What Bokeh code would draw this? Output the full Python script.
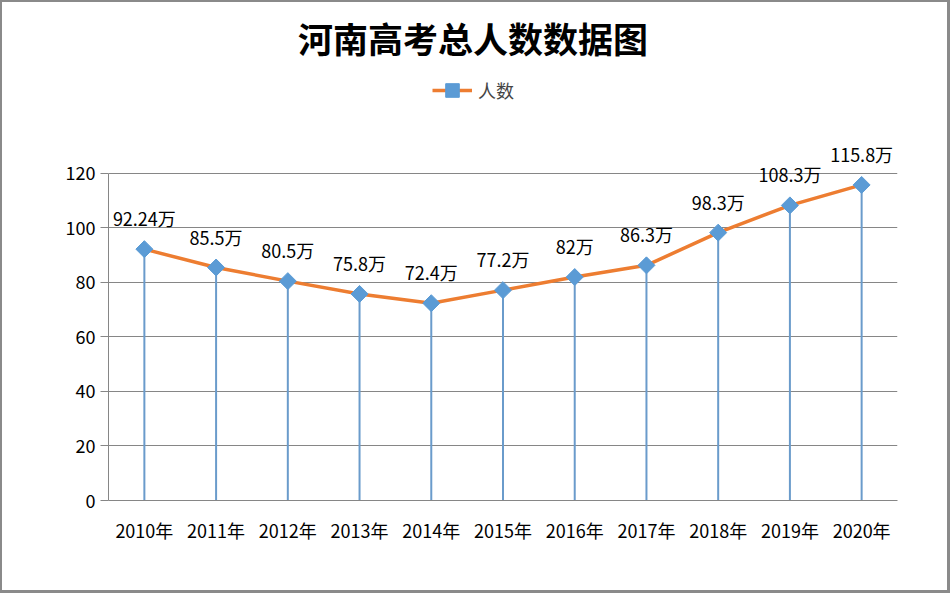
import math
from bokeh.plotting import figure
from bokeh.models import Range1d, FixedTicker, Label, Legend, LegendItem, ColumnDataSource
from bokeh.core.properties import value
from bokeh.embed import file_html
from bokeh.resources import INLINE

years = ["2010年", "2011年", "2012年", "2013年", "2014年", "2015年",
         "2016年", "2017年", "2018年", "2019年", "2020年"]
people = [92.24, 85.5, 80.5, 75.8, 72.4, 77.2, 82, 86.3, 98.3, 108.3, 115.8]
labels = ["92.24万", "85.5万", "80.5万", "75.8万", "72.4万", "77.2万",
          "82万", "86.3万", "98.3万", "108.3万", "115.8万"]
y_ticks = [0, 20, 40, 60, 80, 100, 120]
title_text = "河南高考总人数数据图"
series_name = "人数"

CJK = "Noto Sans CJK SC"
xs = [i + 0.5 for i in range(len(years))]
src = ColumnDataSource(dict(x=xs, y=people, zero=[0] * len(people), lab=labels))

# frame spans from the canvas top down to the x axis; axis bounds keep the axis at 0..120
p = figure(width=950, height=593, output_backend="svg", toolbar_location=None,
           x_range=Range1d(0, len(years)), y_range=Range1d(0, 182.75),
           min_border_left=106, min_border_right=55, min_border_top=0, min_border_bottom=95)
p.styles = {"border-style": "solid", "border-color": "#8a8a8a",
            "border-width": "2px 3px 3px 2px"}
p.outline_line_color = None
p.background_fill_color = "white"
p.border_fill_color = "white"

# axes
p.xaxis.ticker = FixedTicker(ticks=xs)
p.xaxis.major_label_overrides = {x: y for x, y in zip(xs, years)}
p.xaxis.major_tick_line_color = None
p.xaxis.minor_tick_line_color = None
p.xaxis.axis_line_color = "#868686"
p.xaxis.major_label_text_font = CJK
p.xaxis.major_label_text_font_size = "18px"
p.xaxis.major_label_text_color = "black"
p.xaxis.major_label_standoff = 10

p.yaxis.ticker = FixedTicker(ticks=y_ticks)
p.yaxis.bounds = (0, 120)
p.yaxis.major_tick_in = 0
p.yaxis.major_tick_out = 8
p.yaxis.major_tick_line_color = "#868686"
p.yaxis.minor_tick_line_color = None
p.yaxis.axis_line_color = "#868686"
p.yaxis.major_label_text_font = CJK
p.yaxis.major_label_text_font_size = "18px"
p.yaxis.major_label_text_color = "black"
p.yaxis.major_label_standoff = 5

p.xgrid.grid_line_color = None
p.ygrid.grid_line_color = "#868686"
p.ygrid.grid_line_width = 1

# drop lines
p.segment(x0="x", y0="zero", x1="x", y1="y", source=src, line_color="#6A9BCB", line_width=2)
# line + markers
ln = p.line("x", "y", source=src, line_color="#ED7D31", line_width=3.5)
mk = p.scatter("x", "y", source=src, marker="square", angle=math.pi / 4, size=12,
               fill_color="#5B9BD5", line_color="#5B9BD5")
# data labels
p.text("x", "y", text="lab", source=src, y_offset=-31, text_align="center",
       text_baseline="middle", text_font=value(CJK), text_font_size="18px",
       text_color="black")

# title, centred on the whole chart rather than on the frame
p.add_layout(Label(x=len(years) / 2, x_offset=-30, y=169.9, text=title_text,
                   text_align="center", text_baseline="middle", text_font=CJK,
                   text_font_size="35px", text_font_style="bold", text_color="black"))

# legend
leg = Legend(items=[LegendItem(label=series_name, renderers=[ln, mk])],
             location=(324, 393), orientation="horizontal",
             glyph_width=40, glyph_height=34, padding=0, margin=0,
             label_text_font=CJK, label_text_font_size="18px",
             border_line_color=None, background_fill_alpha=0,
             label_standoff=6)
p.add_layout(leg, "center")

open("out.html", "w").write(file_html(p, INLINE))
